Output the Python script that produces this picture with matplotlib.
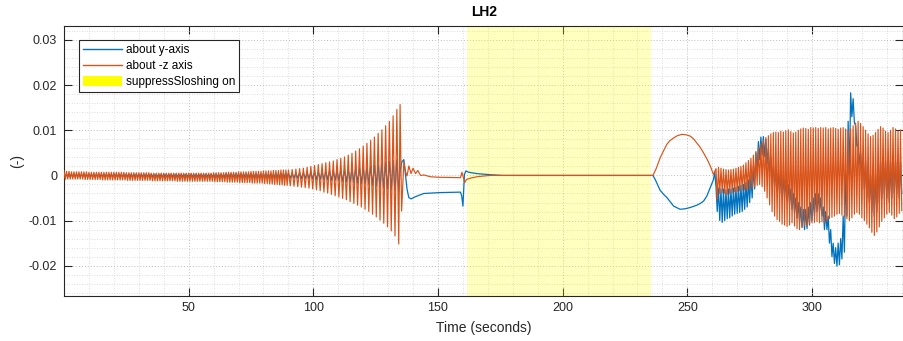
import numpy as np
import matplotlib
matplotlib.use("Agg")
import matplotlib.pyplot as plt
from matplotlib.lines import Line2D
from matplotlib.patches import Patch

plt.rcParams['font.family'] = ['Liberation Sans', 'DejaVu Sans']
plt.rcParams['axes.unicode_minus'] = False

# ---------------- data (values in units of 1e-3) ----------------
SCALE = 1e-3
series_names = ["about y-axis", "about -z axis", "suppressSloshing on"]
suppress_start, suppress_end = 161.8, 235.6

# early oscillating phase A (0-90 s): one peak + one trough per cycle
earlyA_start, earlyA_period = 0.0, 1.0
z_earlyA_up = [1.0, 0.9, 0.9, 0.8, 0.8, 0.8, 0.8, 0.8, 0.8, 0.8,
               0.7, 0.7, 0.7, 0.7, 0.7, 0.7, 0.7, 0.7, 0.7, 0.7,
               0.7, 0.7, 0.7, 0.7, 0.7, 0.6, 0.6, 0.6, 0.6, 0.6,
               0.6, 0.6, 0.6, 0.6, 0.6, 0.5, 0.5, 0.5, 0.5, 0.5,
               0.5, 0.5, 0.5, 0.5, 0.5, 0.5, 0.5, 0.5, 0.5, 0.5,
               0.5, 0.5, 0.5, 0.5, 0.5, 0.5, 0.5, 0.5, 0.5, 0.5,
               0.6, 0.6, 0.6, 0.6, 0.6, 0.7, 0.7, 0.7, 0.7, 0.7,
               0.8, 0.8, 0.8, 0.8, 0.8, 0.9, 0.9, 0.9, 0.9, 0.9,
               1.0, 1.0, 1.0, 1.0, 1.1, 1.1, 1.1, 1.2, 1.2, 1.2]
z_earlyA_lo = [-0.9, -0.8, -0.8, -0.8, -0.8, -0.8, -0.8, -0.8, -0.9, -0.9,
               -0.9, -0.9, -0.9, -0.9, -0.9, -1.0, -1.0, -1.0, -1.0, -1.0,
               -1.0, -1.0, -1.0, -1.0, -1.0, -1.1, -1.1, -1.1, -1.1, -1.1,
               -1.1, -1.1, -1.1, -1.1, -1.1, -1.2, -1.2, -1.2, -1.2, -1.2,
               -1.2, -1.2, -1.2, -1.2, -1.2, -1.3, -1.3, -1.3, -1.3, -1.3,
               -1.3, -1.3, -1.3, -1.3, -1.3, -1.3, -1.3, -1.3, -1.3, -1.3,
               -1.4, -1.4, -1.4, -1.4, -1.4, -1.5, -1.5, -1.5, -1.5, -1.5,
               -1.6, -1.6, -1.6, -1.6, -1.6, -1.7, -1.7, -1.7, -1.7, -1.7,
               -1.8, -1.8, -1.9, -1.9, -2.0, -2.0, -2.1, -2.1, -2.2, -2.2]
y_earlyA_up = [0.3, 0.3, 0.3, 0.3, 0.3, 0.3, 0.3, 0.3, 0.3, 0.3,
               0.3, 0.3, 0.3, 0.3, 0.3, 0.3, 0.3, 0.3, 0.3, 0.3,
               0.3, 0.3, 0.3, 0.3, 0.3, 0.3, 0.3, 0.3, 0.3, 0.3,
               0.3, 0.3, 0.3, 0.3, 0.3, 0.3, 0.3, 0.3, 0.3, 0.3,
               0.3, 0.3, 0.3, 0.3, 0.3, 0.3, 0.3, 0.3, 0.3, 0.3,
               0.3, 0.3, 0.3, 0.3, 0.3, 0.3, 0.3, 0.3, 0.3, 0.3,
               0.3, 0.3, 0.3, 0.3, 0.3, 0.4, 0.4, 0.4, 0.4, 0.4,
               0.4, 0.4, 0.4, 0.4, 0.4, 0.4, 0.4, 0.4, 0.4, 0.4,
               0.4, 0.4, 0.4, 0.4, 0.4, 0.5, 0.5, 0.5, 0.5, 0.5]
y_earlyA_lo = [-0.3, -0.3, -0.3, -0.3, -0.3, -0.3, -0.3, -0.3, -0.3, -0.3,
               -0.3, -0.3, -0.3, -0.3, -0.3, -0.3, -0.3, -0.3, -0.3, -0.3,
               -0.3, -0.3, -0.3, -0.3, -0.3, -0.3, -0.3, -0.3, -0.3, -0.3,
               -0.3, -0.3, -0.3, -0.3, -0.3, -0.3, -0.3, -0.3, -0.3, -0.3,
               -0.3, -0.3, -0.3, -0.3, -0.3, -0.3, -0.3, -0.3, -0.3, -0.3,
               -0.3, -0.3, -0.3, -0.3, -0.3, -0.3, -0.3, -0.3, -0.3, -0.3,
               -0.4, -0.4, -0.4, -0.4, -0.4, -0.4, -0.4, -0.4, -0.4, -0.4,
               -0.4, -0.4, -0.4, -0.4, -0.4, -0.5, -0.5, -0.5, -0.5, -0.5,
               -0.5, -0.5, -0.5, -0.5, -0.5, -0.6, -0.6, -0.6, -0.6, -0.6]

# early oscillating phase B (90-135 s): growing sloshing
earlyB_start, earlyB_period = 90.0, 1.5
z_earlyB_up = [1.2, 1.3, 1.4, 1.5, 1.6, 1.8, 2.0, 2.2, 2.4, 2.6,
               2.8, 3.0, 3.2, 3.5, 3.8, 4.1, 4.5, 4.9, 5.4, 5.9,
               6.5, 7.1, 7.8, 8.5, 9.3, 10.1, 11.0, 12.0, 13.2, 14.6]
z_earlyB_lo = [-2.3, -2.4, -2.5, -2.6, -2.7, -2.8, -3.0, -3.2, -3.4, -3.7,
               -3.9, -4.2, -4.5, -4.8, -5.1, -5.4, -5.8, -6.2, -6.6, -7.0,
               -7.5, -8.0, -8.6, -9.2, -9.9, -10.6, -11.4, -12.3, -13.4, -15.2]
y_earlyB_up = [0.5, 0.5, 0.5, 0.6, 0.6, 0.7, 0.7, 0.8, 0.8, 0.9,
               0.9, 1.0, 1.0, 1.1, 1.2, 1.3, 1.4, 1.5, 1.6, 1.7,
               1.8, 1.9, 2.1, 2.3, 2.5, 2.7, 2.9, 3.1, 3.3, 3.5]
y_earlyB_lo = [-0.6, -0.6, -0.6, -0.7, -0.7, -0.8, -0.8, -0.9, -0.9, -1.0,
               -1.0, -1.1, -1.1, -1.2, -1.3, -1.4, -1.5, -1.6, -1.7, -1.8,
               -1.9, -2.0, -2.2, -2.4, -2.6, -2.8, -3.0, -3.2, -3.4, -3.6]

# transient / quiet / hump phases: (time, value) keypoints
z_mid_t = [134.8, 135.4, 136.3, 137.0, 137.6, 138.3, 139.2, 140.0, 141.0, 141.9,
           143.0, 144.3, 147.0, 150.0, 159.0, 159.6, 160.1, 160.7, 161.4, 163.0,
           165.6, 168.0, 171.0, 175.0, 236.2,
           237.5, 239.1, 240.5, 241.8, 243.0, 244.5, 246.0, 247.8, 249.5, 251.2,
           252.5, 253.8, 255.2, 256.5, 258.0, 259.2, 260.5]
z_mid_v = [15.7, -7.9, 3.0, 0.8, -0.1, 2.1, 0.4, 1.6, 0.4, 1.1,
           0.0, 0.1, -0.3, -0.4, -0.5, 0.7, -0.3, -1.6, -0.9, -0.6,
           -0.3, -0.15, 0.0, 0.0, 0.0,
           1.5, 3.9, 5.5, 6.9, 7.7, 8.3, 8.8, 9.1, 9.0, 8.7,
           8.1, 7.2, 6.2, 5.0, 3.5, 2.1, 0.2]
y_mid_t = [134.8, 135.5, 136.3, 137.6, 138.3, 139.2, 141.0, 144.3, 151.0, 159.0,
           159.5, 160.0, 160.6, 161.2, 162.3, 165.6, 171.0, 176.0, 236.2,
           237.2, 239.1, 240.5, 241.8, 244.5, 247.1, 249.0, 251.2, 253.8, 255.2,
           256.5, 257.8, 259.2, 260.5, 261.0]
y_mid_v = [1.0, 3.0, 3.5, -3.1, -4.9, -5.2, -4.7, -4.0, -3.8, -3.7,
           -4.5, -6.8, 0.2, 1.0, 0.7, 0.4, 0.15, 0.0, 0.0,
           -1.0, -3.3, -4.2, -4.9, -6.8, -7.5, -7.4, -7.1, -6.6, -6.2,
           -5.7, -4.6, -2.7, -0.9, 0.8]

# late oscillating phase: one peak + one trough per cycle
late_start, late_period = 261.5, 1.0
z_late_up = [1.5, 1.8, 1.6, 1.4, 1.3, 1.2, 1.3, 1.4, 1.6, 1.8, 2.0, 2.3, 2.8, 3.3, 3.8,
             4.5, 5.3, 6.2, 7.0, 7.8, 8.4, 8.8, 9.2, 9.5, 9.6,
             9.5, 9.8, 9.6, 9.9, 10.1, 9.7, 9.4, 9.6, 10.0, 10.3, 10.5, 10.4, 10.2, 10.6,
             10.5, 10.6, 10.4, 10.6, 10.5, 10.6, 10.3, 10.5, 10.6, 10.4,
             10.2, 10.5, 10.6, 10.3, 10.0, 10.4, 11.0, 11.6, 12.0, 11.5,
             10.8, 10.0, 9.2, 8.6, 8.9, 9.5, 10.2, 10.8, 10.5, 9.8, 9.5, 10.0, 10.6, 10.3, 9.8, 10.1]
z_late_lo = [-5.3, -4.0, -3.8, -4.0, -4.2, -4.0, -3.8, -3.6, -3.5, -3.4, -3.3, -3.2, -3.1, -3.0, -2.8,
             -2.5, -2.2, -2.0, -2.5, -3.5, -5.0, -6.5, -8.0, -9.0, -9.8,
             -10.2, -10.8, -11.0, -11.3, -11.0, -10.5, -11.2, -11.8, -12.0, -11.5, -11.0, -11.3, -10.8, -10.5,
             -10.4, -10.2, -10.5, -10.3, -10.4, -10.0, -9.6, -9.3, -9.0, -8.6,
             -8.4, -8.8, -9.2, -9.6, -10.0, -9.4, -8.6, -8.2, -8.6, -9.4,
             -10.0, -10.8, -11.6, -12.6, -13.3, -12.5, -11.4, -10.2, -9.4, -8.6, -8.2, -8.8, -9.6, -9.2, -8.4, -7.8]
y_late_up = [-2.5, -2.8, -3.0, -3.0, -3.2, -3.0, -3.0, -2.8, -2.6, -2.4, -2.2, -2.0, -1.5, -1.0, 0.0,
             2.0, 5.0, 7.5, 8.5, 8.6, 8.0, 6.0, 4.0, 2.0, 1.0,
             0.5, 0.0, -0.5, -1.0, -2.0, -3.0, -4.0, -5.0, -6.0, -7.0, -7.5, -7.5, -7.0, -6.0,
             -5.0, -4.0, -4.0, -5.0, -7.0, -8.0, -9.0, -12.0, -15.0, -16.0,
             -15.0, -14.0, -9.0, 0.6, 12.0, 18.3, 17.0, 11.0, 7.0, 5.0,
             4.0, 3.0, 2.0, 0.0, -1.0, 0.0, 2.0, 3.0, 4.0, 3.0, 2.0, 3.0, 4.0, 3.0, 2.0, 3.0]
y_late_lo = [-8.0, -10.0, -10.4, -10.0, -9.6, -9.4, -9.0, -8.6, -8.4, -8.2, -8.0, -7.5, -7.0, -6.0, -5.0,
             -3.0, 1.0, 3.5, 4.5, 4.2, 2.5, 0.5, -1.0, -2.5, -3.5,
             -4.0, -4.5, -5.0, -5.5, -6.5, -7.5, -8.5, -9.5, -10.5, -11.5, -12.0, -11.8, -11.0, -10.0,
             -9.0, -8.0, -8.0, -9.0, -12.0, -12.0, -15.0, -18.0, -19.5, -20.1,
             -19.8, -18.5, -17.0, -9.0, 0.0, 13.0, 11.7, 6.5, 2.5, 0.0,
             -3.0, -5.0, -6.0, -8.0, -9.0, -8.0, -6.0, -5.0, -4.0, -5.0, -6.0, -5.0, -4.0, -4.0, -5.0, -4.0]

xticks = [50, 100, 150, 200, 250, 300]
yticks = [-0.02, -0.01, 0.0, 0.01, 0.02, 0.03]
yticklabels = ["-0.02", "-0.01", "0", "0.01", "0.02", "0.03"]


def zigzag(start, period, up, lo):
    up = np.asarray(up, float)
    lo = np.asarray(lo, float)
    k = np.arange(len(up))
    t = np.empty(2 * len(up))
    v = np.empty(2 * len(up))
    t[0::2] = start + k * period
    t[1::2] = start + (k + 0.5) * period
    v[0::2] = up
    v[1::2] = lo
    return t, v


def build(a_up, a_lo, b_up, b_lo, mid_t, mid_v, l_up, l_lo):
    ta, va = zigzag(earlyA_start, earlyA_period, a_up, a_lo)
    tb, vb = zigzag(earlyB_start, earlyB_period, b_up, b_lo)
    tl, vl = zigzag(late_start, late_period, l_up, l_lo)
    t = np.concatenate([ta, tb, mid_t, tl])
    v = np.concatenate([va, vb, mid_v, vl]) * SCALE
    return t, v


ty, vy = build(y_earlyA_up, y_earlyA_lo, y_earlyB_up, y_earlyB_lo,
               y_mid_t, y_mid_v, y_late_up, y_late_lo)
tz, vz = build(z_earlyA_up, z_earlyA_lo, z_earlyB_up, z_earlyB_lo,
               z_mid_t, z_mid_v, z_late_up, z_late_lo)

# ---------------- plot ----------------
BLUE = "#0072BD"
ORANGE = "#D95319"
DARK = "#262626"

fig = plt.figure(figsize=(9.04, 3.41), dpi=100)
ax = fig.add_axes([64 / 904, 1 - 295.5 / 341, 839.5 / 904, 269.5 / 341])

ax.axvspan(suppress_start, suppress_end, color=(1, 1, 0), alpha=0.25, lw=0, zorder=1)
ax.plot(ty, vy, color=BLUE, lw=0.9, zorder=3)
ax.plot(tz, vz, color=ORANGE, lw=0.85, zorder=4)

ax.set_xlim(0, 336.7)
ax.set_ylim(-0.0266, 0.0331)
ax.set_xticks(xticks)
ax.set_xticklabels([str(v) for v in xticks])
ax.set_yticks(yticks)
ax.set_yticklabels(yticklabels)
ax.set_xticks(np.arange(10, 337, 10), minor=True)
ax.set_yticks(np.arange(-0.026, 0.0331, 0.002), minor=True)

ax.grid(which='major', ls=(0, (1, 2)), color='#bdbdbd', lw=0.7, zorder=0)
ax.grid(which='minor', ls=(0, (1, 2)), color='#d2d2d2', lw=0.6, zorder=0)
ax.set_axisbelow(True)

ax.tick_params(which='major', direction='in', length=6, width=0.8, color=DARK,
               labelcolor=DARK, labelsize=9, top=True, right=True, pad=5)
ax.tick_params(which='minor', length=0)
for s in ax.spines.values():
    s.set_color(DARK)
    s.set_linewidth(0.8)

ax.set_title("LH2", fontsize=10, fontweight='bold', color='black', pad=7)
ax.set_xlabel("Time (seconds)", fontsize=10, color=DARK, labelpad=5)
ax.set_ylabel("(-)", fontsize=10, color=DARK, labelpad=3)

handles = [Line2D([], [], color=BLUE, lw=1.0),
           Line2D([], [], color=ORANGE, lw=1.0),
           Patch(facecolor=(1, 1, 0), edgecolor='none')]
leg = ax.legend(handles, series_names, loc='upper left', bbox_to_anchor=(0.0179, 0.948),
                borderaxespad=0, fontsize=8.5, handlelength=3.3, handleheight=1.0,
                handletextpad=0.3, labelspacing=0.3, borderpad=0.35,
                fancybox=False, framealpha=1, edgecolor=DARK)
leg.get_frame().set_linewidth(0.8)

fig.savefig("out.png", dpi=100)
